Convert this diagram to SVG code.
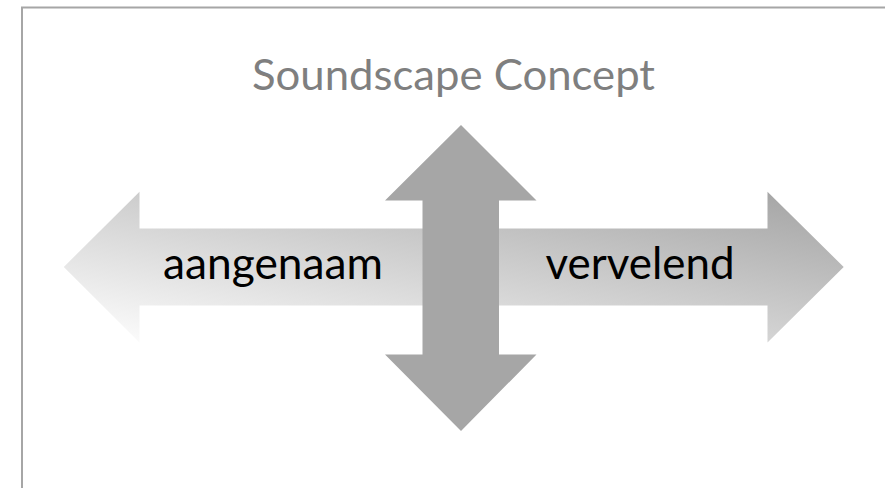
<svg xmlns="http://www.w3.org/2000/svg" width="885" height="488" viewBox="0 0 885 488">
  <defs>
    <linearGradient id="hgrad" x1="0" y1="1" x2="1" y2="0">
      <stop offset="0" stop-color="#FFFFFF"/>
      <stop offset="1" stop-color="#A2A2A2"/>
    </linearGradient>
    <style>
      .lbl { font-family: Lato, "Open Sans", "Liberation Sans", sans-serif; font-size: 45px; fill: #000000; text-anchor: middle; }
      .title { font-family: Lato, "Open Sans", "Liberation Sans", sans-serif; font-size: 42px; fill: #7F7F7F; text-anchor: middle; }
      .frame { fill: none; stroke: #A6A6A6; stroke-width: 2; }
    </style>
  </defs>
  <rect width="885" height="488" fill="#FFFFFF"/>
  <rect class="frame" x="22" y="7.5" width="900" height="520"/>
  <g id="title">
    <text class="title" x="453.5" y="90" textLength="403" lengthAdjust="spacingAndGlyphs">Soundscape Concept</text>
  </g>
  <g id="connectors">
    <g id="horizontal-arrow">
      <path d="M63.8,267 L139.5,191.7 L139.5,228.5 L767.5,228.5 L767.5,191.7 L843.7,267 L767.5,342.5 L767.5,305.5 L139.5,305.5 L139.5,342.5 Z" fill="url(#hgrad)"/>
    </g>
    <g id="vertical-arrow">
      <path d="M461,125 L536.5,200.5 L499,200.5 L499,354.5 L536.5,354.5 L461,431 L385,354.5 L422.5,354.5 L422.5,200.5 L385,200.5 Z" fill="#A6A6A6"/>
    </g>
  </g>
  <g id="node-aangenaam">
    <text class="lbl" x="273" y="279" textLength="220" lengthAdjust="spacingAndGlyphs">aangenaam</text>
  </g>
  <g id="node-vervelend">
    <text class="lbl" x="640" y="279" textLength="189" lengthAdjust="spacingAndGlyphs">vervelend</text>
  </g>
</svg>
